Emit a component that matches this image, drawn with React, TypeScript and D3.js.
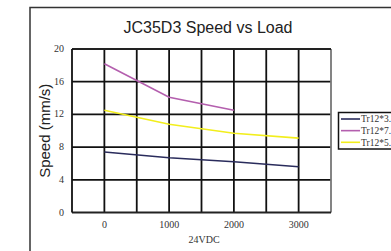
import * as d3 from 'd3';

const loads = [0, 1000, 2000, 3000];
const xTicks = [0, 1000, 2000, 3000];
const yTicks = [0, 4, 8, 12, 16, 20];
const seriesNames = ['Tr12*3.', 'Tr12*7.', 'Tr12*5.'];
const navySpeed = [7.4, 6.7, 6.2, 5.6];
const purpleSpeed = [18.2, 14.1, 12.5];
const yellowSpeed = [12.5, 10.8, 9.7, 9.1];
const seriesColors = ['#2a2c5c', '#b45fae', '#f2ee1c'];

const W = 391;
const H = 251;
const plot = { left: 72, right: 331, top: 49, bottom: 212.5 };

export default function App() {
  const x = d3.scaleLinear().domain([-500, 3500]).range([plot.left, plot.right]);
  const y = d3.scaleLinear().domain([0, 20]).range([plot.bottom, plot.top]);
  const gridX = d3.range(0, 3001, 500);
  const gridY = d3.range(4, 17, 4);

  const line = d3.line<number>()
    .x((_, i) => x(loads[i]))
    .y((d) => y(d));

  const series = [navySpeed, purpleSpeed, yellowSpeed];
  const serif = '"Liberation Serif", "DejaVu Serif", serif';
  const sans = '"Liberation Sans", Arial, sans-serif';

  return (
    <svg width={W} height={H} style={{ position: 'absolute', left: 0, top: 0, background: '#fff' }}>
      <rect x={30} y={7.5} width={420} height={300} fill="#fff" stroke="#333" strokeWidth={1.5} />
      <text x={208} y={33} textAnchor="middle" fontFamily={sans} fontSize={16} fill="#222">JC35D3 Speed vs Load</text>

      {gridX.map((v) => (
        <line key={'gx' + v} x1={x(v)} x2={x(v)} y1={plot.top} y2={plot.bottom} stroke="#111" strokeWidth={1.8} />
      ))}
      {gridY.map((v) => (
        <line key={'gy' + v} x1={plot.left} x2={plot.right} y1={y(v)} y2={y(v)} stroke="#111" strokeWidth={1.8} />
      ))}
      <line x1={plot.right} x2={plot.right} y1={plot.top} y2={plot.bottom} stroke="#777" strokeWidth={1.8} />
      <line x1={plot.left} x2={plot.right} y1={plot.top} y2={plot.top} stroke="#222" strokeWidth={1.8} />
      <line x1={plot.left} x2={plot.right} y1={plot.bottom} y2={plot.bottom} stroke="#222" strokeWidth={1.8} />
      <line x1={plot.left} x2={plot.left} y1={plot.top} y2={plot.bottom} stroke="#111" strokeWidth={1.8} />

      {series.map((s, i) => (
        <path key={'s' + i} d={line(s) ?? ''} fill="none" stroke={seriesColors[i]} strokeWidth={1.6} />
      ))}

      {yTicks.map((v) => (
        <text key={'yt' + v} x={64} y={y(v) + 3} textAnchor="end" fontFamily={serif} fontSize={10} fill="#333">{v}</text>
      ))}
      {xTicks.map((v) => (
        <text key={'xt' + v} x={x(v)} y={228} textAnchor="middle" fontFamily={serif} fontSize={10} fill="#333">{v}</text>
      ))}
      <text x={204} y={243} textAnchor="middle" fontFamily={serif} fontSize={10} fill="#333">24VDC</text>
      <text transform={`translate(50,${(plot.top + plot.bottom) / 2}) rotate(-90)`} textAnchor="middle" fontFamily={sans} fontSize={15} fill="#222">Speed (mm/s)</text>

      <rect x={338.5} y={112.5} width={70} height={36.5} fill="#fff" stroke="#111" strokeWidth={1.5} />
      {seriesNames.map((n, i) => (
        <g key={'lg' + i} transform={`translate(341,${119 + i * 11.65})`}>
          <line x1={0} x2={19} y1={0} y2={0} stroke={seriesColors[i]} strokeWidth={1.6} />
          <text x={20} y={3.3} fontFamily={serif} fontSize={9.5} fill="#333">{n}</text>
        </g>
      ))}
    </svg>
  );
}
